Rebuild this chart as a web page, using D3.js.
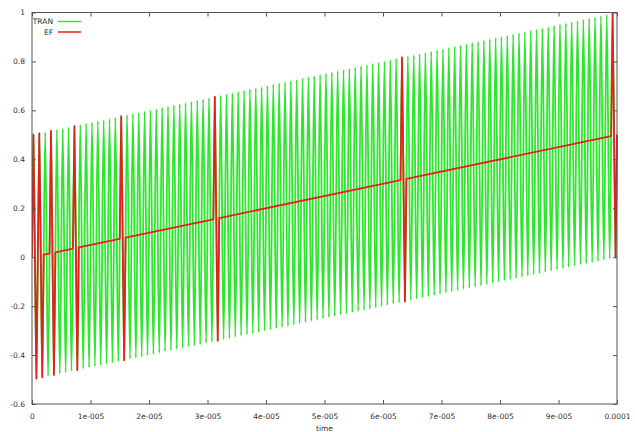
<!DOCTYPE html>
<html>
<head>
<meta charset="utf-8">
<script src="https://cdn.jsdelivr.net/npm/d3@7"></script>
<style>
  html, body { margin: 0; padding: 0; background: #fff; }
  svg { display: block; }
  text { font-family: "DejaVu Sans", sans-serif; font-size: 7.5px; fill: #333; }
</style>
</head>
<body>
<svg id="chart" width="635" height="432"></svg>
<script>
// Oscillation period of the TRAN waveform, in seconds
const period = 1e-6;

// TRAN: value at each crest (k + 1/4 period) and trough (k + 3/4 period), k = 0..99
const tranPeaks = [
  0.501,0.506,0.511,0.516,0.521,0.526,0.531,0.536,0.541,0.546,
  0.551,0.556,0.561,0.566,0.571,0.576,0.581,0.586,0.591,0.596,
  0.601,0.606,0.611,0.616,0.621,0.626,0.631,0.636,0.641,0.646,
  0.651,0.656,0.661,0.666,0.671,0.676,0.681,0.686,0.691,0.696,
  0.701,0.706,0.711,0.716,0.721,0.726,0.731,0.736,0.741,0.746,
  0.751,0.756,0.761,0.766,0.771,0.776,0.781,0.786,0.791,0.796,
  0.801,0.806,0.811,0.816,0.821,0.826,0.831,0.836,0.841,0.846,
  0.851,0.856,0.861,0.866,0.871,0.876,0.881,0.886,0.891,0.896,
  0.901,0.906,0.911,0.916,0.921,0.926,0.931,0.936,0.941,0.946,
  0.951,0.956,0.961,0.966,0.971,0.976,0.981,0.986,0.991,0.996
];
const tranTroughs = [
  -0.496,-0.491,-0.486,-0.481,-0.476,-0.471,-0.466,-0.461,-0.456,-0.451,
  -0.446,-0.441,-0.436,-0.431,-0.426,-0.421,-0.416,-0.411,-0.406,-0.401,
  -0.396,-0.391,-0.386,-0.381,-0.376,-0.371,-0.366,-0.361,-0.356,-0.351,
  -0.346,-0.341,-0.336,-0.331,-0.326,-0.321,-0.316,-0.311,-0.306,-0.301,
  -0.296,-0.291,-0.286,-0.281,-0.276,-0.271,-0.266,-0.261,-0.256,-0.251,
  -0.246,-0.241,-0.236,-0.231,-0.226,-0.221,-0.216,-0.211,-0.206,-0.201,
  -0.196,-0.191,-0.186,-0.181,-0.176,-0.171,-0.166,-0.161,-0.156,-0.151,
  -0.146,-0.141,-0.136,-0.131,-0.126,-0.121,-0.116,-0.111,-0.106,-0.101,
  -0.096,-0.091,-0.086,-0.081,-0.076,-0.071,-0.066,-0.061,-0.056,-0.051,
  -0.046,-0.041,-0.036,-0.031,-0.026,-0.021,-0.016,-0.011,-0.006,-0.001
];
const tranStart = 0.0;
const tranEnd = 0.5;

// EF: sample times (s) and values
const efTimes = [
  0, 0.25e-6, 0.75e-6, 1.25e-6, 1.75e-6, 2e-6,
  3e-6, 3.25e-6, 3.75e-6, 4e-6,
  7e-6, 7.25e-6, 7.75e-6, 8e-6,
  15e-6, 15.25e-6, 15.75e-6, 16e-6,
  31e-6, 31.25e-6, 31.75e-6, 32e-6,
  63e-6, 63.25e-6, 63.75e-6, 64e-6,
  99e-6, 99.25e-6, 99.75e-6, 100e-6
];
const efValues = [
  0, 0.501, -0.496, 0.506, -0.491, 0.010,
  0.015, 0.516, -0.481, 0.020,
  0.035, 0.536, -0.461, 0.040,
  0.075, 0.576, -0.421, 0.080,
  0.155, 0.656, -0.341, 0.160,
  0.315, 0.816, -0.181, 0.320,
  0.495, 0.996, -0.001, 0.500
];

// Axis ticks
const xTickValues = [0, 1e-5, 2e-5, 3e-5, 4e-5, 5e-5, 6e-5, 7e-5, 8e-5, 9e-5, 1e-4];
const xTickLabels = ["0","1e-005","2e-005","3e-005","4e-005","5e-005","6e-005","7e-005","8e-005","9e-005","0.0001"];
const yTickValues = [-0.6, -0.4, -0.2, 0, 0.2, 0.4, 0.6, 0.8, 1];
const yTickLabels = ["-0.6","-0.4","-0.2","0","0.2","0.4","0.6","0.8","1"];

const seriesNames = ["TRAN", "EF"];
const seriesColors = ["#2ee62e", "#e0221a"];
const xLabel = "time";

// ---- build point lists ----
const tranData = [[0, tranStart]];
tranPeaks.forEach((p, k) => {
  tranData.push([(k + 0.25) * period, p]);
  tranData.push([(k + 0.75) * period, tranTroughs[k]]);
});
tranData.push([100 * period, tranEnd]);
const efData = efTimes.map((t, i) => [t, efValues[i]]);

// ---- layout ----
const svg = d3.select("#chart");
const L = 32, R = 617, T = 12.5, B = 404;

const x = d3.scaleLinear().domain([0, 1e-4]).range([L, R]);
const y = d3.scaleLinear().domain([-0.6, 1]).range([B, T]);

const smoothLine = d3.line()
  .x(d => x(d[0]))
  .y(d => y(d[1]))
  .curve(d3.curveMonotoneX);
const straightLine = d3.line()
  .x(d => x(d[0]))
  .y(d => y(d[1]));

svg.append("clipPath").attr("id", "plotclip")
  .append("rect").attr("x", L).attr("y", T - 2).attr("width", R - L + 1).attr("height", B - T + 4);

const plot = svg.append("g").attr("clip-path", "url(#plotclip)");
plot.append("path").datum(tranData)
  .attr("fill", "none").attr("stroke", seriesColors[0])
  .attr("stroke-width", 1.8).attr("stroke-linejoin", "round")
  .attr("d", smoothLine);
plot.append("path").datum(efData)
  .attr("fill", "none").attr("stroke", seriesColors[1])
  .attr("stroke-width", 1.8).attr("stroke-linejoin", "round")
  .attr("d", straightLine);

// ---- axes (ticks pointing inward, mirrored) ----
const axisColor = "#555";
const tickLen = 4;
const fmtX = (d, i) => xTickLabels[i];
const fmtY = (d, i) => yTickLabels[i];

const gB = svg.append("g").attr("transform", `translate(0,${B})`)
  .call(d3.axisBottom(x).tickValues(xTickValues).tickFormat(fmtX).tickSize(-tickLen).tickPadding(10));
const gT = svg.append("g").attr("transform", `translate(0,${T})`)
  .call(d3.axisTop(x).tickValues(xTickValues).tickFormat("").tickSize(-tickLen));
const gL = svg.append("g").attr("transform", `translate(${L},0)`)
  .call(d3.axisLeft(y).tickValues(yTickValues).tickFormat(fmtY).tickSize(-tickLen).tickPadding(7));
const gR = svg.append("g").attr("transform", `translate(${R},0)`)
  .call(d3.axisRight(y).tickValues(yTickValues).tickFormat("").tickSize(-tickLen));

[gB, gT, gL, gR].forEach(g => {
  g.select(".domain").remove();
  g.selectAll(".tick line").attr("stroke", axisColor);
  g.selectAll(".tick text").attr("fill", "#333")
    .style("font-family", "'DejaVu Sans', sans-serif").style("font-size", "7.5px");
});

svg.append("rect")
  .attr("x", L).attr("y", T).attr("width", R - L).attr("height", B - T)
  .attr("fill", "none").attr("stroke", axisColor).attr("stroke-width", 1);

svg.append("text")
  .attr("x", (L + R) / 2).attr("y", 430.5)
  .attr("text-anchor", "middle").text(xLabel);

// ---- legend ----
const legend = svg.append("g");
seriesNames.forEach((name, i) => {
  const ly = 21.5 + i * 10.5;
  legend.append("text").attr("x", 53).attr("y", ly).attr("dy", "0.35em")
    .attr("text-anchor", "end").text(name);
  legend.append("line").attr("x1", 58).attr("x2", 81).attr("y1", ly).attr("y2", ly)
    .attr("stroke", seriesColors[i]).attr("stroke-width", 1.5);
});
</script>
</body>
</html>
